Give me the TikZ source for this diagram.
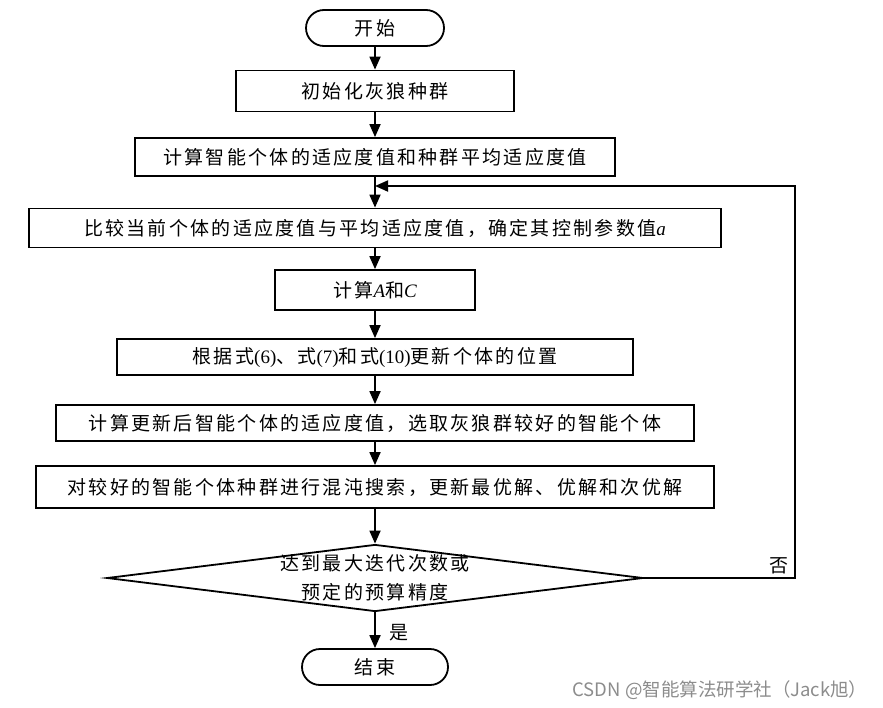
\documentclass[tikz,border=0pt]{standalone}
\usepackage{fontspec}
\setmainfont{Noto Sans CJK SC}[LetterSpace=12]
\newfontfamily\lat{Liberation Serif}
\newfontfamily\markfont{Noto Sans CJK SC}
\usetikzlibrary{arrows.meta,shapes.geometric,shapes.misc}

\newcommand{\varit}[1]{{\lat\itshape #1}}

\begin{document}
\begin{tikzpicture}[x=1pt,y=-1pt,
		font=\fontsize{19}{29}\selectfont,
		box/.style={draw, line width=1.8pt, inner sep=0pt},
		term/.style={draw, line width=1.8pt, rounded rectangle, inner sep=0pt, minimum width=138, minimum height=36},
		flow/.style={-{Triangle[length=13pt,width=11pt]}, line width=1.8pt}]
		\useasboundingbox (0,0) rectangle (883,707);
		\node[term] (start) at (375,28) {开始};
		\node[box, minimum width=278, minimum height=41] (init) at (375,91) {初始化灰狼种群};
		\node[box, minimum width=480, minimum height=38] (fit) at (375,157) {计算智能个体的适应度值和种群平均适应度值};
		\node[box, minimum width=692, minimum height=39] (cmp) at (375,228) {比较当前个体的适应度值与平均适应度值，确定其控制参数值\varit{a}};
		\node[box, minimum width=200, minimum height=40] (calc) at (375,290) {计算\varit{A}和\varit{C}};
		\node[box, minimum width=516, minimum height=36] (upd) at (375,357) {根据式{\lat(6)}、式{\lat(7)}和式{\lat(10)}更新个体的位置};
		\node[box, minimum width=638, minimum height=36] (eval) at (375,423) {计算更新后智能个体的适应度值，选取灰狼群较好的智能个体};
		\node[box, minimum width=678, minimum height=42] (chaos) at (375,487) {对较好的智能个体种群进行混沌搜索，更新最优解、优解和次优解};
		\node[box, diamond, minimum width=536, minimum height=67] (check) at (375,578) {};
		\node[align=center] (checktxt) at (check) {达到最大迭代次数或\\预定的预算精度};
		\node[term, minimum width=146] (stop) at (375,667) {结束};
		\coordinate (loop) at (375,186);
		\coordinate (corner) at (795,578);
		% arrows
		\draw[flow] (start) -- (init);
		\draw[flow] (init) -- (fit);
		\draw[flow] (fit) -- (cmp);
		\draw[flow] (cmp) -- (calc);
		\draw[flow] (calc) -- (upd);
		\draw[flow] (upd) -- (eval);
		\draw[flow] (eval) -- (chaos);
		\draw[flow] (chaos) -- (check);
		\draw[flow] (check) -- node[right, xshift=10pt, yshift=-2pt]{是} (stop);
		\draw[flow] (check.east) -- (corner) node[above left, xshift=-2pt]{否} |- (loop);
		\node[anchor=east, text=black!45, font=\markfont\fontsize{18.5}{20}\selectfont] (mark) at (871,690) {CSDN @智能算法研学社（Jack旭）};
	\end{tikzpicture}
\end{document}
